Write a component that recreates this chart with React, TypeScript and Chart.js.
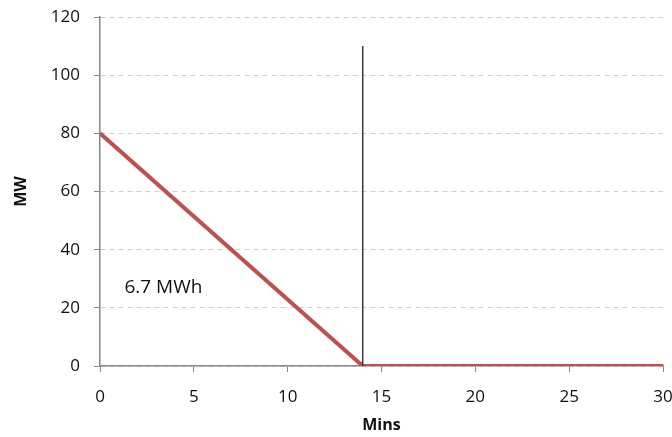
import React, { useEffect, useRef } from "react";
import { Chart, registerables } from "chart.js";

Chart.register(...registerables);

// Data
const DISCHARGE_X = [0, 14, 30];
const DISCHARGE_Y = [80, 0, 0];
const MARKER_X = [14, 14];
const MARKER_Y = [0, 110];
const X_TICKS = [0, 5, 10, 15, 20, 25, 30];
const Y_TICKS = [0, 20, 40, 60, 80, 100, 120];
const ANNOTATION_TEXT = "6.7 MWh";
const ANNOTATION_X = 1.3;
const ANNOTATION_Y = 27;
const X_TITLE = "Mins";
const Y_TITLE = "MW";

const FONT = "'Open Sans', 'Liberation Sans', sans-serif";
const AXIS_COLOR = "#878787";
const GRID_COLOR = "#cfcfcf";

const annotationPlugin = {
  id: "annot",
  afterDatasetsDraw(chart: any) {
    const { ctx, scales } = chart;
    const x = scales.x.getPixelForValue(ANNOTATION_X);
    const y = scales.y.getPixelForValue(ANNOTATION_Y);
    ctx.save();
    ctx.font = `19px ${FONT}`;
    ctx.fillStyle = "#111";
    ctx.textAlign = "left";
    ctx.textBaseline = "middle";
    ctx.fillText(ANNOTATION_TEXT, x, y);
    ctx.restore();
  },
};

export default function App() {
  const ref = useRef<HTMLCanvasElement>(null);
  useEffect(() => {
    if (!ref.current) return;
    const root = document.getElementById("root");
    if (root) root.style.width = "664px";
    const chart = new Chart(ref.current, {
      type: "line",
      data: {
        datasets: [
          {
            data: MARKER_X.map((x, i) => ({ x, y: MARKER_Y[i] })),
            borderColor: "#3a3a3a",
            borderWidth: 1.5,
            pointRadius: 0,
            fill: false,
          },
          {
            data: DISCHARGE_X.map((x, i) => ({ x, y: DISCHARGE_Y[i] })),
            borderColor: "#c0504d",
            borderWidth: 4,
            pointRadius: 0,
            fill: false,
            borderCapStyle: "butt",
          },
        ],
      },
      plugins: [annotationPlugin],
      options: {
        animation: false,
        responsive: true,
        maintainAspectRatio: false,
        layout: { padding: { left: 0, right: 9, top: 9, bottom: 0 } },
        plugins: { legend: { display: false }, tooltip: { enabled: false } },
        scales: {
          x: {
            type: "linear",
            min: 0,
            max: 30,
            afterBuildTicks: (s: any) => {
              s.ticks = X_TICKS.map((v) => ({ value: v }));
            },
            afterFit: (s: any) => {
              s.height = 71;
              s.paddingRight = 0;
              s.paddingLeft = 0;
            },
            grid: {
              drawOnChartArea: false,
              drawTicks: true,
              tickLength: 6,
              tickColor: AXIS_COLOR,
              color: AXIS_COLOR,
            },
            border: { color: AXIS_COLOR, width: 1.5 },
            ticks: {
              padding: 15,
              color: "#111",
              font: { family: FONT, size: 17 },
              maxRotation: 0,
            },
            title: {
              display: true,
              text: X_TITLE,
              color: "#111",
              font: { family: FONT, size: 16, weight: "bold", lineHeight: 1.2 },
              padding: { top: 0, bottom: 2 },
            },
          },
          y: {
            type: "linear",
            min: 0,
            max: 120,
            afterBuildTicks: (s: any) => {
              s.ticks = Y_TICKS.map((v) => ({ value: v }));
            },
            afterFit: (s: any) => {
              s.width = 92;
              s.paddingTop = 0;
              s.paddingBottom = 0;
            },
            grid: {
              color: GRID_COLOR,
              tickColor: AXIS_COLOR,
              tickLength: 6,
              tickBorderDash: [],
            },
            border: { color: AXIS_COLOR, width: 1.5, dash: [5, 4] },
            ticks: {
              padding: 14,
              color: "#111",
              font: { family: FONT, size: 17 },
            },
            title: {
              display: true,
              text: Y_TITLE,
              color: "#111",
              font: { family: FONT, size: 16, weight: "bold", lineHeight: 1.2 },
              padding: { top: 4, bottom: 0 },
            },
          },
        },
      } as any,
    });
    return () => chart.destroy();
  }, []);
  return (
    <>
      <style>{"html,body{overflow:hidden;} body{margin:8px;}"}</style>
      <div style={{ position: "fixed", left: 8, top: 8, width: 664, height: 429 }}>
        <canvas ref={ref} />
      </div>
    </>
  );
}
